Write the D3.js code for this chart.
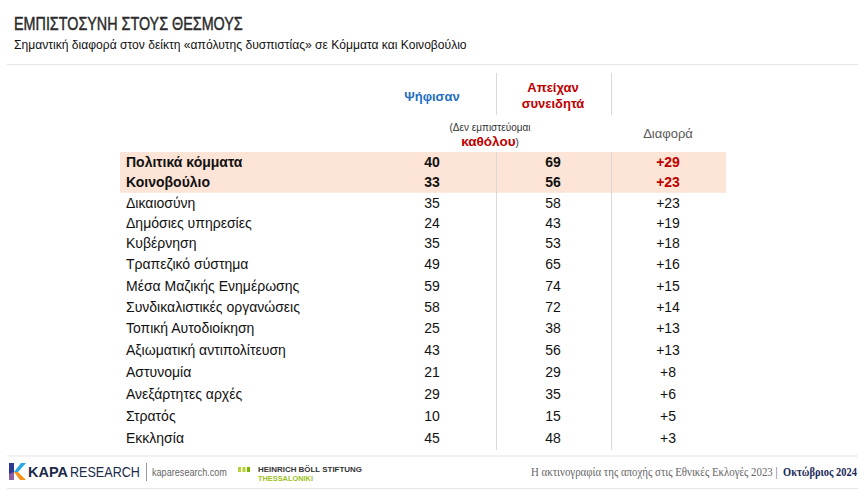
<!DOCTYPE html>
<html><head><meta charset="utf-8">
<script src="https://cdn.jsdelivr.net/npm/d3@7"></script>
<style>body{margin:0;background:#fff}svg{display:block}</style>
</head><body>
<script>
const categories = ["Πολιτικά κόμματα","Κοινοβούλιο","Δικαιοσύνη","Δημόσιες υπηρεσίες","Κυβέρνηση","Τραπεζικό σύστημα","Μέσα Μαζικής Ενημέρωσης","Συνδικαλιστικές οργανώσεις","Τοπική Αυτοδιοίκηση","Αξιωματική αντιπολίτευση","Αστυνομία","Ανεξάρτητες αρχές","Στρατός","Εκκλησία"];
const voted = [40,33,35,24,35,49,59,58,25,43,21,29,10,45];
const abstained = [69,56,58,43,53,65,74,72,38,56,29,35,15,48];
const highlighted = ["Πολιτικά κόμματα","Κοινοβούλιο"];
const columns = ["Ψήφισαν","Απείχαν","Διαφορά"];

const W=865,H=491;
const svg=d3.select("body").append("svg").attr("width",W).attr("height",H);
const F="'Liberation Sans', Arial, sans-serif";

// text condensed horizontally to a target width via a transform
function fitText(x,y,w,str,attrs){
  const t=svg.append("text").attr("x",0).attr("y",0).text(str);
  Object.entries(attrs).forEach(([k,v])=>t.attr(k,v));
  const nat=t.node().getComputedTextLength();
  t.attr("transform",`translate(${x},${y}) scale(${w/nat},1)`);
  return t;
}

// title
fitText(14,30,229,"ΕΜΠΙΣΤΟΣΥΝΗ ΣΤΟΥΣ ΘΕΣΜΟΥΣ",{"font-family":F,"font-size":18,fill:"#2a2a2a",stroke:"#2a2a2a","stroke-width":0.45});
fitText(14,49,453,"Σημαντική διαφορά στον δείκτη «απόλυτης δυσπιστίας» σε Κόμματα και Κοινοβούλιο",{"font-family":F,"font-size":13,fill:"#111"});
svg.append("line").attr("x1",7).attr("x2",858).attr("y1",64.5).attr("y2",64.5).attr("stroke","#e6e6e6").attr("stroke-width",1.2);

// scales (row index -> baseline centre; spacing widens slightly down the table)
const yIdx=d3.scaleLinear().domain([0,4,8,13]).range([162,243,328,438]);
const y=c=>yIdx(categories.indexOf(c));
const x=d3.scaleOrdinal().domain(columns).range([432,553,668]);

// highlight band
const hl=categories.filter(c=>highlighted.includes(c));
svg.append("rect").attr("x",120).attr("width",606)
  .attr("y",y(hl[0])-10).attr("height",y(hl[hl.length-1])-y(hl[0])+20.5)
  .attr("fill","#fce4d6");

// vertical separators
[496.5,611.5].forEach(vx=>{
  svg.append("line").attr("x1",vx).attr("x2",vx).attr("y1",73).attr("y2",115).attr("stroke","#d9d9d9");
  svg.append("line").attr("x1",vx).attr("x2",vx).attr("y1",152).attr("y2",450).attr("stroke","#d9d9d9");
});

// headers
svg.append("text").attr("x",x("Ψήφισαν")).attr("y",101).attr("text-anchor","middle").attr("font-family",F)
  .attr("font-size",13).attr("font-weight","bold").attr("fill","#1f70c1").text("Ψήφισαν");
svg.append("text").attr("x",x("Απείχαν")).attr("y",92).attr("text-anchor","middle").attr("font-family",F)
  .attr("font-size",13).attr("font-weight","bold").attr("fill","#c00000").text("Απείχαν");
svg.append("text").attr("x",x("Απείχαν")).attr("y",108).attr("text-anchor","middle").attr("font-family",F)
  .attr("font-size",13).attr("font-weight","bold").attr("fill","#c00000").text("συνειδητά");
svg.append("text").attr("x",490).attr("y",131).attr("text-anchor","middle").attr("font-family",F)
  .attr("font-size",10).attr("fill","#333").text("(Δεν εμπιστεύομαι");
const k=svg.append("text").attr("x",490).attr("y",146).attr("text-anchor","middle").attr("font-family",F);
k.append("tspan").attr("font-size",13.5).attr("font-weight","bold").attr("fill","#c00000").text("καθόλου");
k.append("tspan").attr("font-size",10).attr("fill","#333").text(")");
svg.append("text").attr("x",x("Διαφορά")).attr("y",138).attr("text-anchor","middle").attr("font-family",F)
  .attr("font-size",13).attr("fill","#595959").text("Διαφορά");

// rows
const rows=categories.map((c,i)=>({c,v:voted[i],a:abstained[i],d:abstained[i]-voted[i],hl:highlighted.includes(c)}));
const g=svg.append("g").attr("font-family",F).attr("font-size",14);
const r=g.selectAll("g.row").data(rows).join("g").attr("class","row")
  .attr("transform",d=>`translate(0,${y(d.c)+5})`)
  .attr("font-weight",d=>d.hl?"bold":"normal");
r.append("text").attr("x",126).attr("fill","#111").text(d=>d.c);
r.append("text").attr("x",x("Ψήφισαν")).attr("text-anchor","middle").attr("fill","#111").text(d=>d.v);
r.append("text").attr("x",x("Απείχαν")).attr("text-anchor","middle").attr("fill","#111").text(d=>d.a);
r.append("text").attr("x",x("Διαφορά")).attr("text-anchor","middle").attr("fill",d=>d.hl?"#c00000":"#111").text(d=>"+"+d.d);

// footer
svg.append("line").attr("x1",7).attr("x2",858).attr("y1",456).attr("y2",456).attr("stroke","#e6e6e6").attr("stroke-width",1.2);
svg.append("line").attr("x1",7).attr("x2",858).attr("y1",488.5).attr("y2",488.5).attr("stroke","#e6e6e6").attr("stroke-width",1.2);
const lg=svg.append("g");
lg.append("path").attr("d","M9,463 L14,463 L14,480 L9,480 Z").attr("fill","#2b3990");
lg.append("path").attr("d","M14,472 L21,463 L26,463 L18,472 Z").attr("fill","#27aae1");
lg.append("path").attr("d","M14,472 L18,472 L26,480 L20,480 Z").attr("fill","#f7941d");
lg.append("path").attr("d","M9,474 L14,472 L14,480 L9,480 Z").attr("fill","#8e5ea2");
fitText(28,477,40,"KAPA",{"font-family":F,"font-size":14,"font-weight":"bold",fill:"#1b2a4a"});
fitText(70,477,70,"RESEARCH",{"font-family":F,"font-size":14,fill:"#1b2a4a"});
svg.append("line").attr("x1",146.5).attr("x2",146.5).attr("y1",463).attr("y2",481).attr("stroke","#999");
fitText(152,476,75,"kaparesearch.com",{"font-family":F,"font-size":10.5,fill:"#666"});
[238,242.5,247].forEach((gx,i)=>svg.append("rect").attr("x",gx).attr("y",467).attr("width",3).attr("height",5).attr("fill",i<2?"#b5d334":"#7ab800"));
fitText(258,472,104,"HEINRICH BÖLL STIFTUNG",{"font-family":F,"font-size":8,"font-weight":"bold",fill:"#333"});
fitText(258,481,55,"THESSALONIKI",{"font-family":F,"font-size":7.5,"font-weight":"bold",fill:"#9bc31c"});
const SF="'Liberation Serif','DejaVu Serif',serif";
fitText(531,476,247,"Η ακτινογραφία της αποχής στις Εθνικές Εκλογές 2023 |",{"font-family":SF,"font-size":13,fill:"#666"});
fitText(783,476,74,"Οκτώβριος 2024",{"font-family":SF,"font-size":13,"font-weight":"bold",fill:"#1b2a5a"});
</script>
</body></html>
